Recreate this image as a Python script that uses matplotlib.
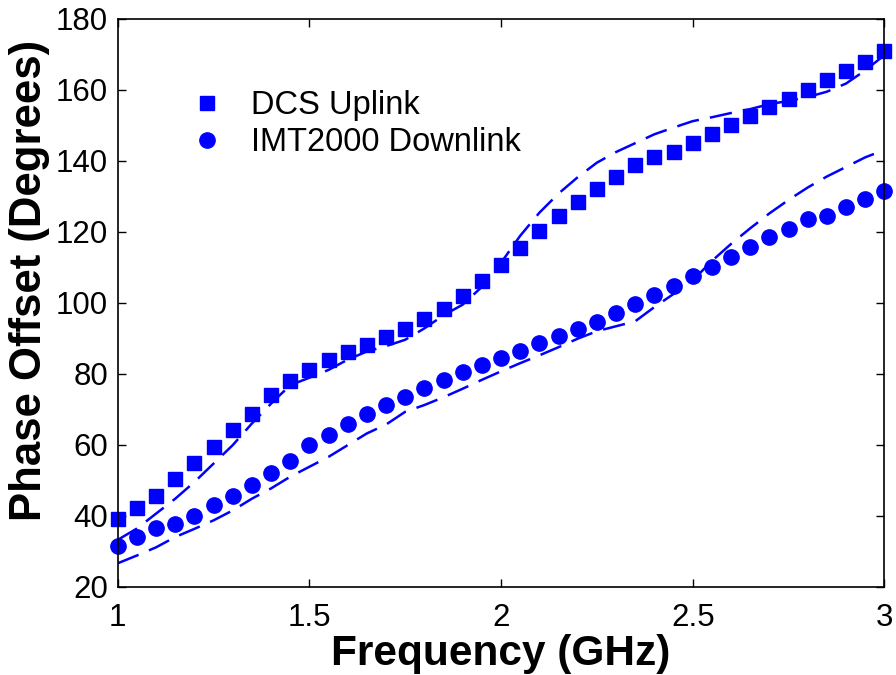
import numpy as np
import matplotlib
matplotlib.use("Agg")
import matplotlib.pyplot as plt

plt.rcParams['font.family'] = ['Liberation Sans', 'DejaVu Sans']

# Frequency sweep (GHz)
freq = np.round(np.arange(1.0, 3.0001, 0.05), 2)

# Measured phase offset (degrees)
dcs_uplink = [39.0, 42.1, 45.7, 50.3, 55.0, 59.5, 64.1, 68.6, 74.1, 78.0,
              81.1, 83.8, 86.2, 88.2, 90.3, 92.6, 95.4, 98.4, 102.0, 106.1,
              110.8, 115.5, 120.2, 124.4, 128.3, 132.1, 135.5, 138.8, 141.0, 142.5,
              145.0, 147.7, 150.2, 152.7, 155.1, 157.5, 160.0, 162.7, 165.4, 168.0,
              170.9]
imt_downlink = [31.6, 34.0, 36.5, 37.7, 40.0, 42.9, 45.7, 48.8, 52.0, 55.5,
                59.9, 62.8, 65.8, 68.6, 71.2, 73.6, 76.0, 78.2, 80.4, 82.5,
                84.4, 86.4, 88.6, 90.7, 92.7, 94.7, 97.0, 99.6, 102.1, 104.8,
                107.5, 110.2, 113.0, 115.7, 118.5, 120.9, 123.5, 124.6, 127.0, 129.3,
                131.4]

# Simulated phase offset (degrees)
dcs_sim = [33.2, 36.4, 40.6, 44.8, 49.5, 54.7, 59.9, 66.0, 71.6, 76.8,
           78.9, 81.1, 84.0, 86.3, 87.8, 89.6, 92.8, 96.5, 99.5, 104.5,
           111.3, 118.9, 125.4, 130.8, 135.4, 139.5, 142.5, 145.0, 147.5, 149.4,
           151.2, 152.3, 153.5, 154.6, 156.0, 156.9, 158.0, 159.5, 161.8, 165.5,
           169.8]
imt_sim = [26.6, 28.8, 31.1, 34.0, 36.3, 38.7, 41.5, 44.8, 47.7, 51.0,
           53.8, 56.6, 59.9, 63.2, 65.7, 69.3, 71.2, 73.4, 75.8, 78.3,
           80.7, 83.0, 85.2, 87.5, 89.9, 92.0, 93.4, 94.8, 98.8, 102.5,
           106.3, 111.8, 116.6, 121.0, 125.2, 129.0, 132.5, 135.6, 138.3, 141.0,
           143.1]

xticks = [1, 1.5, 2, 2.5, 3]
xtick_labels = ['1', '1.5', '2', '2.5', '3']
yticks = [20, 40, 60, 80, 100, 120, 140, 160, 180]

blue = '#0000ff'

fig = plt.figure(figsize=(8.96, 6.75), dpi=100)
ax = fig.add_axes([0.1314, 0.1308, 0.8556, 0.8411])

ax.plot(freq, dcs_sim, color=blue, lw=1.8, dashes=(9, 4.5))
ax.plot(freq, imt_sim, color=blue, lw=1.8, dashes=(9, 4.5))
h1, = ax.plot(freq, dcs_uplink, 's', color=blue, ms=9.4, mec=blue,
              label='DCS Uplink', clip_on=False)
h2, = ax.plot(freq, imt_downlink, 'o', color=blue, ms=11, mec=blue,
              label='IMT2000 Downlink', clip_on=False)

ax.set_xlim(1, 3)
ax.set_ylim(20, 180)
ax.set_xticks(xticks)
ax.set_xticklabels(xtick_labels)
ax.set_yticks(yticks)
ax.tick_params(direction='in', length=6, width=1, labelsize=22.5,
               top=True, right=True)
ax.tick_params(axis='x', pad=12)
ax.tick_params(axis='y', pad=7)
for s in ax.spines.values():
    s.set_linewidth(1.2)

ax.set_xlabel('Frequency (GHz)', fontsize=30.5, fontweight='bold')
ax.xaxis.set_label_coords(0.5, -0.0835)
ax.xaxis.label.set_va('top')
ax.set_ylabel('Phase Offset (Degrees)', fontsize=31.5, fontweight='bold')
ax.yaxis.set_label_coords(-0.088, 0.54)

ax.legend(handles=[h1, h2], loc='upper left', bbox_to_anchor=(0.095, 0.875),
          frameon=False, fontsize=23.5, handlelength=1.0, handletextpad=0.85,
          labelspacing=0.2, borderpad=0, borderaxespad=0)

fig.savefig('out.png', dpi=100)
